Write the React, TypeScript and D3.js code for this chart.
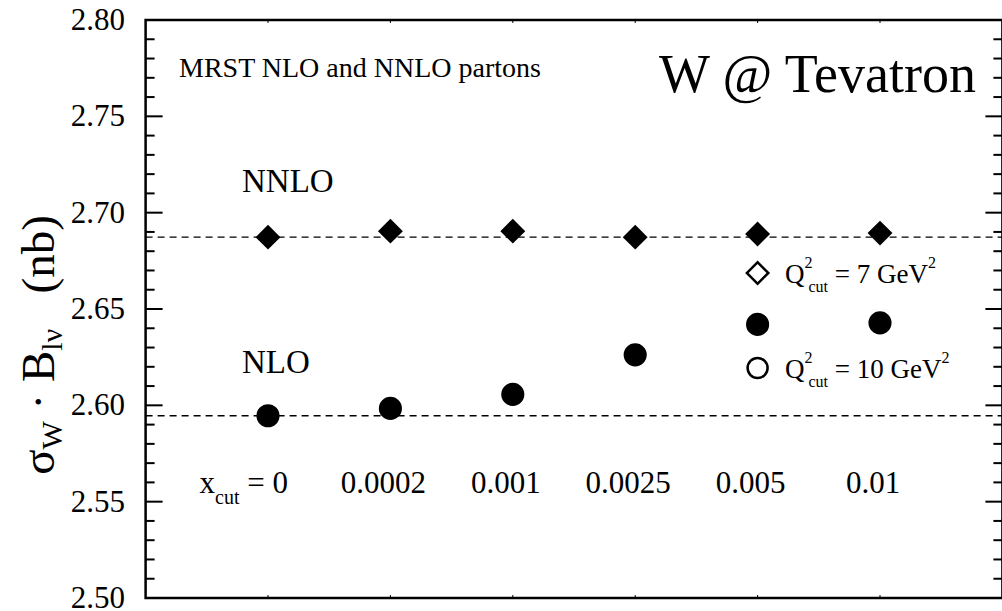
import React from "react";
import * as d3 from "d3";

// ---- data ----
const xcutLabels = ["0", "0.0002", "0.001", "0.0025", "0.005", "0.01"];
const nnloValues = [2.6873, 2.6904, 2.6904, 2.6873, 2.6889, 2.6894];
const nloValues = [2.5946, 2.5984, 2.6057, 2.6262, 2.6420, 2.6428];
const nnloReference = 2.6873;
const nloReference = 2.5946;
const yMajorTicks = [2.5, 2.55, 2.6, 2.65, 2.7, 2.75, 2.8];
const seriesLabels = ["NNLO", "NLO"];
const legendQ2 = ["7", "10"];

const W = 1002;
const H = 611;
const FONT = "'Liberation Serif', 'Times New Roman', serif";

export default function App() {
  const x = d3.scaleLinear().domain([-1, 6]).range([145.6, 1002.4]);
  const y = d3.scaleLinear().domain([2.5, 2.8]).range([598, 20]);
  const left = x(-1);
  const right = x(6);
  const top = y(2.8);
  const bottom = y(2.5);

  const minorTicks = d3.range(2.5, 2.8001, 0.01).map((v) => +v.toFixed(2));
  const fmt = d3.format(".2f");

  const diamond = d3.symbol().type(d3.symbolSquare).size(310)();
  const circle = d3.symbol().type(d3.symbolCircle).size(420)();
  const legendDiamond = d3.symbol().type(d3.symbolSquare).size(230)();

  return (
    <svg
      width={W}
      height={H}
      style={{ position: "fixed", left: 0, top: 0, background: "#fff" }}
      fontFamily={FONT}
    >
      <rect x={0} y={0} width={W} height={H} fill="#fff" />

      {/* dashed reference lines */}
      {[nnloReference, nloReference].map((v, i) => (
        <line
          key={"ref" + i}
          x1={left}
          x2={right}
          y1={y(v)}
          y2={y(v)}
          stroke="#000"
          strokeWidth={1.3}
          strokeDasharray="7,5"
        />
      ))}

      {/* minor / major ticks left and right */}
      {minorTicks.map((v) => {
        const major = yMajorTicks.some((m) => Math.abs(m - v) < 1e-6);
        const len = major ? 17 : 9;
        return (
          <g key={"t" + v}>
            <line x1={left} x2={left + len} y1={y(v)} y2={y(v)} stroke="#000" strokeWidth={2} />
            <line x1={right} x2={right - len} y1={y(v)} y2={y(v)} stroke="#000" strokeWidth={2} />
          </g>
        );
      })}

      {/* tiny top/bottom ticks at categories */}
      {xcutLabels.map((_, i) => (
        <g key={"xt" + i}>
          <line x1={x(i)} x2={x(i)} y1={top} y2={top + 3} stroke="#000" strokeWidth={1} />
          <line x1={x(i)} x2={x(i)} y1={bottom} y2={bottom - 3} stroke="#000" strokeWidth={1} />
        </g>
      ))}

      {/* frame */}
      <rect
        x={left}
        y={top}
        width={right - left}
        height={bottom - top}
        fill="none"
        stroke="#000"
        strokeWidth={2.5}
      />

      {/* y tick labels */}
      {yMajorTicks.map((v) => (
        <text key={"yl" + v} x={125} y={y(v) + 10} fontSize={31} textAnchor="end" fill="#000">
          {fmt(v)}
        </text>
      ))}

      {/* y axis title */}
      <text
        transform={`translate(54, 345) rotate(-90)`}
        fontSize={47}
        textAnchor="middle"
        fill="#000"
      >
        <tspan>σ</tspan>
        <tspan fontSize={30} dy={8}>W</tspan>
        <tspan dy={-8}> · B</tspan>
        <tspan fontSize={30} dy={8}>lν</tspan>
        <tspan dy={-8} xmlSpace="preserve">{"   (nb)"}</tspan>
      </text>

      {/* header texts */}
      <text x={179} y={77} fontSize={28} fill="#000">
        MRST NLO and NNLO partons
      </text>
      <text x={976} y={92} fontSize={54} textAnchor="end" fill="#000">
        W @ Tevatron
      </text>

      {/* series labels */}
      <text x={242} y={192} fontSize={33} fill="#000">
        {seriesLabels[0]}
      </text>
      <text x={242} y={373} fontSize={33} fill="#000">
        {seriesLabels[1]}
      </text>

      {/* NNLO diamonds */}
      {nnloValues.map((v, i) => (
        <path
          key={"d" + i}
          d={diamond as string}
          transform={`translate(${x(i)},${y(v)}) rotate(45)`}
          fill="#000"
        />
      ))}

      {/* NLO circles */}
      {nloValues.map((v, i) => (
        <path key={"c" + i} d={circle as string} transform={`translate(${x(i)},${y(v)})`} fill="#000" />
      ))}

      {/* x cut labels */}
      {xcutLabels.map((lab, i) =>
        i === 0 ? (
          <text key={"xl" + i} x={x(i) + 20} y={493} fontSize={31} textAnchor="end" fill="#000">
            <tspan>x</tspan>
            <tspan fontSize={20} dy={11}>cut</tspan>
            <tspan dy={-11}>{" = " + lab}</tspan>
          </text>
        ) : (
          <text key={"xl" + i} x={x(i) - 7} y={493} fontSize={31} textAnchor="middle" fill="#000">
            {lab}
          </text>
        )
      )}

      {/* legend */}
      <path
        d={legendDiamond as string}
        transform={`translate(${x(4)},273) rotate(45)`}
        fill="#fff"
        stroke="#000"
        strokeWidth={2.5}
      />
      <circle cx={x(4)} cy={368} r={10} fill="#fff" stroke="#000" strokeWidth={2.5} />
      {legendQ2.map((q, i) => (
        <text key={"lg" + i} x={785} y={i === 0 ? 283 : 378} fontSize={27} fill="#000">
          <tspan>Q</tspan>
          <tspan fontSize={16} dy={-15}>2</tspan>
          <tspan fontSize={16} dx={-4} dy={24}>cut</tspan>
          <tspan dy={-9}>{" = " + q + " GeV"}</tspan>
          <tspan fontSize={16} dy={-15}>2</tspan>
        </text>
      ))}
    </svg>
  );
}
